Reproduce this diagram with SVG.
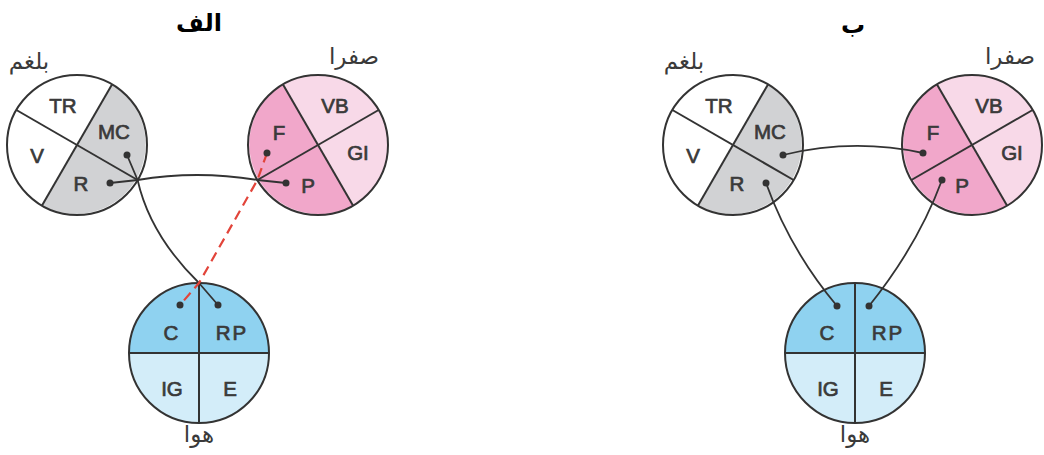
<svg xmlns="http://www.w3.org/2000/svg" width="1044" height="455" viewBox="0 0 1044 455">
<style>
.bg{fill:#ffffff}
.ring{fill:none;stroke:#333333;stroke-width:2}
.div{stroke:#333333;stroke-width:2;fill:none}
.lbl{font-family:"Liberation Sans",Arial,sans-serif;font-weight:normal;font-size:20.5px;fill:#3a3a3a;stroke:#3a3a3a;stroke-width:0.7;text-anchor:middle;dominant-baseline:central}
.ar{font-family:"DejaVu Sans",sans-serif;font-size:23px;fill:#3a3a3a;text-anchor:middle}
.title{font-family:"DejaVu Sans",sans-serif;font-weight:bold;font-size:24px;fill:#000000;text-anchor:middle}
.gray{fill:#d1d2d4}
.white{fill:#ffffff}
.pinkD{fill:#f1a7ca}
.pinkL{fill:#f8d9e8}
.blueD{fill:#8fd2f0}
.blueL{fill:#d3edf9}
.conn{fill:none;stroke:#333333;stroke-width:1.8}
.dash{fill:none;stroke:#e2443a;stroke-width:2.2;stroke-dasharray:10 6}
.dot{fill:#333333}
</style>
<rect class="bg" x="0" y="0" width="1044" height="455"/>

<text class="title" x="199" y="31">الف</text>
<text class="title" x="853" y="33">ب</text>

<!-- Panel A -->
<g id="phlegm-a">
<circle class="white" cx="77" cy="145" r="70"/>
<path class="gray" d="M112,84.4 A70,70 0 0 1 42,205.6 Z"/>
<line class="div" x1="16.4" y1="110" x2="137.6" y2="180"/>
<line class="div" x1="112" y1="84.4" x2="42" y2="205.6"/>
<circle class="ring" cx="77" cy="145" r="70"/>
<text class="lbl" x="63" y="105">TR</text>
<text class="lbl" x="114" y="131">MC</text>
<text class="lbl" x="37" y="155">V</text>
<text class="lbl" x="81" y="183">R</text>
<text class="ar" x="29" y="69">بلغم</text>
</g>

<g id="bile-a">
<circle class="pinkL" cx="318" cy="145" r="70"/>
<path class="pinkD" d="M283,84.4 A70,70 0 0 0 353,205.6 Z"/>
<line class="div" x1="283" y1="84.4" x2="353" y2="205.6"/>
<line class="div" x1="378.6" y1="110" x2="257.4" y2="180"/>
<circle class="ring" cx="318" cy="145" r="70"/>
<text class="lbl" x="335" y="105">VB</text>
<text class="lbl" x="279" y="132">F</text>
<text class="lbl" x="358" y="152">GI</text>
<text class="lbl" x="308" y="185">P</text>
<text class="ar" x="354" y="64">صفرا</text>
</g>

<g id="air-a">
<circle class="blueL" cx="199" cy="353" r="70"/>
<path class="blueD" d="M129,353 A70,70 0 0 1 269,353 Z"/>
<line class="div" x1="199" y1="283" x2="199" y2="423"/>
<line class="div" x1="129" y1="353" x2="269" y2="353"/>
<circle class="ring" cx="199" cy="353" r="70"/>
<text class="lbl" x="171" y="332">C</text>
<text class="lbl" x="232" y="332" letter-spacing="2">RP</text>
<text class="lbl" x="172" y="388">IG</text>
<text class="lbl" x="230" y="388">E</text>
<text class="ar" x="199" y="442">هوا</text>
</g>

<!-- Panel B -->
<g id="phlegm-b" transform="translate(656,0)">
<circle class="white" cx="77" cy="145" r="70"/>
<path class="gray" d="M112,84.4 A70,70 0 0 1 42,205.6 Z"/>
<line class="div" x1="16.4" y1="110" x2="137.6" y2="180"/>
<line class="div" x1="112" y1="84.4" x2="42" y2="205.6"/>
<circle class="ring" cx="77" cy="145" r="70"/>
<text class="lbl" x="63" y="105">TR</text>
<text class="lbl" x="114" y="131">MC</text>
<text class="lbl" x="37" y="155">V</text>
<text class="lbl" x="81" y="183">R</text>
<text class="ar" x="28" y="69">بلغم</text>
</g>

<g id="bile-b" transform="translate(654,0)">
<circle class="pinkL" cx="318" cy="145" r="70"/>
<path class="pinkD" d="M283,84.4 A70,70 0 0 0 353,205.6 Z"/>
<line class="div" x1="283" y1="84.4" x2="353" y2="205.6"/>
<line class="div" x1="378.6" y1="110" x2="257.4" y2="180"/>
<circle class="ring" cx="318" cy="145" r="70"/>
<text class="lbl" x="335" y="105">VB</text>
<text class="lbl" x="279" y="132">F</text>
<text class="lbl" x="358" y="152">GI</text>
<text class="lbl" x="308" y="185">P</text>
<text class="ar" x="356" y="64">صفرا</text>
</g>

<g id="air-b" transform="translate(656,0)">
<circle class="blueL" cx="199" cy="353" r="70"/>
<path class="blueD" d="M129,353 A70,70 0 0 1 269,353 Z"/>
<line class="div" x1="199" y1="283" x2="199" y2="423"/>
<line class="div" x1="129" y1="353" x2="269" y2="353"/>
<circle class="ring" cx="199" cy="353" r="70"/>
<text class="lbl" x="171" y="332">C</text>
<text class="lbl" x="232" y="332" letter-spacing="2">RP</text>
<text class="lbl" x="172" y="388">IG</text>
<text class="lbl" x="230" y="388">E</text>
<text class="ar" x="199" y="442">هوا</text>
</g>

<g id="connectors">
<path class="conn" d="M110,183 L137.6,180 Q197,170 257.4,180 L286,183"/>
<path class="conn" d="M127,155 L137.6,180 Q150,235 199,283 L218,305"/>
<path class="dash" d="M267,153 L257.4,180 L199,283 L180,305"/>
<circle class="dot" cx="110" cy="183" r="3.5"/>
<circle class="dot" cx="127" cy="155" r="3.5"/>
<circle class="dot" cx="286" cy="183" r="3.5"/>
<circle class="dot" cx="267" cy="153" r="3.5"/>
<circle class="dot" cx="180" cy="305" r="3.5"/>
<circle class="dot" cx="218" cy="305" r="3.5"/>

<path class="conn" d="M783,155 Q853,138 923,153"/>
<path class="conn" d="M766,183 Q790,250 837,306"/>
<path class="conn" d="M942,180 Q918,245 869,306"/>
<circle class="dot" cx="783" cy="155" r="3.5"/>
<circle class="dot" cx="923" cy="153" r="3.5"/>
<circle class="dot" cx="766" cy="183" r="3.5"/>
<circle class="dot" cx="942" cy="180" r="3.5"/>
<circle class="dot" cx="837" cy="306" r="3.5"/>
<circle class="dot" cx="869" cy="306" r="3.5"/>
</g>
</svg>
